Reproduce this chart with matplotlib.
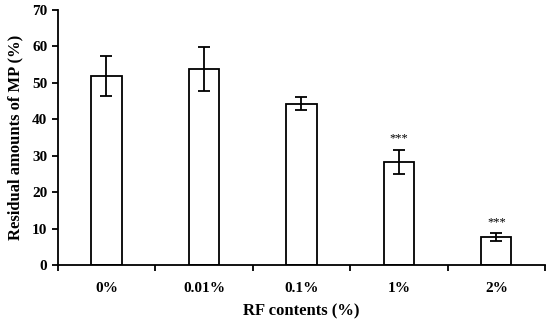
import numpy as np
import matplotlib.pyplot as plt

# RF content levels and residual MP (%)
categories = ["0%", "0.01%", "0.1%", "1%", "2%"]
values = [51.9, 53.8, 44.3, 28.3, 7.7]
errors = [5.4, 6.1, 1.7, 3.3, 1.0]
marks = ["", "", "", "***", "***"]

plt.rcParams['font.family'] = ['Liberation Serif', 'DejaVu Serif']

fig = plt.figure(figsize=(5.5, 3.24), dpi=100)
ax = fig.add_axes([0.105, 0.182, 0.886, 0.787])

x = np.arange(len(categories))
ax.bar(x, values, width=0.31, color="white", edgecolor="black", linewidth=1.3,
       yerr=errors, error_kw=dict(ecolor="black", elinewidth=1.3, capsize=4, capthick=1.3))

for xi, v, e, m in zip(x, values, errors, marks):
    if m:
        ax.text(xi, v + e + 1.5, m, ha="center", va="bottom", fontsize=9)

ax.set_xlim(-0.5, len(categories) - 0.5)
ax.set_ylim(0, 70)
ax.set_yticks(np.arange(0, 71, 10))
ax.set_xticks(x)
ax.set_xticklabels(categories, fontweight="bold", fontsize=11)
ax.set_xticks(np.arange(-0.5, len(categories), 1), minor=True)
ax.tick_params(axis="x", which="major", length=0, pad=12)
ax.tick_params(axis="x", which="minor", length=4, width=1.3, direction="out")
ax.tick_params(axis="y", length=4, width=1.3, direction="out", labelsize=11)
for lbl in ax.get_yticklabels():
    lbl.set_fontweight("bold")

ax.spines["top"].set_visible(False)
ax.spines["right"].set_visible(False)
ax.spines["left"].set_linewidth(1.3)
ax.spines["bottom"].set_linewidth(1.3)

ax.set_xlabel("RF contents (%)", fontweight="bold", fontsize=12, labelpad=6)
ax.set_ylabel("Residual amounts of MP (%)", fontweight="bold", fontsize=12, labelpad=6)

fig.savefig("out.png", dpi=100)
